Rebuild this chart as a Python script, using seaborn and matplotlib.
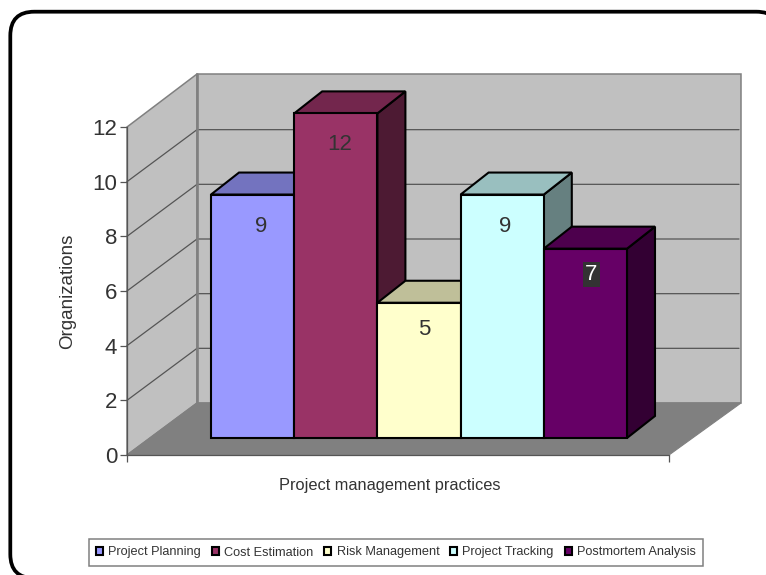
import matplotlib
matplotlib.use("Agg")
import matplotlib.pyplot as plt
from matplotlib.patches import Polygon, FancyBboxPatch, Patch
from matplotlib.transforms import Affine2D
from matplotlib.colors import to_rgb
import seaborn as sns
import pandas as pd

categories = ["Project Planning", "Cost Estimation", "Risk Management",
              "Project Tracking", "Postmortem Analysis"]
values = [9, 12, 5, 9, 7]
colors = ["#9999FF", "#993366", "#FFFFCC", "#CCFFFF", "#660066"]
y_ticks = [0, 2, 4, 6, 8, 10, 12]
y_label = "Organizations"
x_label = "Project management practices"

W, H = 766, 575
sns.set_theme(style="white")
plt.rcParams["font.family"] = ["Liberation Sans", "DejaVu Sans"]
TXT = "#333333"
GRAY = "#808080"
WALL = "#C0C0C0"

fig = plt.figure(figsize=(W / 100, H / 100), dpi=100, facecolor="white")


def box(l, t, r, b):
    return [l / W, 1 - b / H, (r - l) / W, (b - t) / H]


# Pixel-space background: outer rounded frame, walls and floor of the 3D box
bg = fig.add_axes([0, 0, 1, 1], zorder=0)
bg.set_xlim(0, W)
bg.set_ylim(H, 0)
bg.axis("off")
bg.add_patch(FancyBboxPatch((10.3, 11.7), 770, 566.5, boxstyle="round,pad=0,rounding_size=24",
                            facecolor="white", edgecolor="black", linewidth=2.7))
bg.add_patch(Polygon([(197, 74), (741, 74), (741, 403), (197, 403)], facecolor=WALL, edgecolor=GRAY, lw=1.1))
bg.add_patch(Polygon([(127, 127), (197, 74), (197, 403), (127, 455)], facecolor=WALL, edgecolor=GRAY, lw=1.1))
bg.add_patch(Polygon([(127, 455), (197, 403), (741, 403), (669, 455)], facecolor=GRAY, edgecolor=GRAY, lw=0.8))

# Front plane of the chart box: holds the real value axis
ax = fig.add_axes(box(127, 127, 669, 455), zorder=1)
ax.patch.set_alpha(0)
ax.set_ylim(0, 12)
ax.set_xlim(0, 1)
ax.set_yticks(y_ticks)
ax.set_xticks([0, 1])
ax.set_xticklabels(["", ""])
ax.tick_params(axis="y", left=True, length=5, width=0.9, color="#555555", labelsize=16,
               labelcolor=TXT, pad=2)
ax.tick_params(axis="x", bottom=True, length=5, width=0.9, color="#555555")
for s in ["top", "right"]:
    ax.spines[s].set_visible(False)
for s in ["left", "bottom"]:
    ax.spines[s].set_color("#555555")
    ax.spines[s].set_linewidth(0.9)
ax.set_ylabel(y_label, fontsize=13.5, color=TXT, labelpad=12)
ax.set_xlabel(x_label, fontsize=11.8, color=TXT, labelpad=8, x=(389.5 - 127) / 542)

# Gridlines run from the value axis back along the side wall and across the back wall
back = ax.transData + Affine2D().translate(70, 52)
to_bg = bg.transData.inverted()
for v in y_ticks[1:-1]:
    a = to_bg.transform(ax.transData.transform((0, v)))
    b = to_bg.transform(back.transform((0, v)))
    c = to_bg.transform(back.transform((1, v)))
    bg.plot([a[0], b[0], c[0]], [a[1], b[1], c[1]], color="#555555", lw=0.9)
bg.plot([197, 197], [74, 403], color=GRAY, lw=1.9)

# Bars: data coordinates map category slots and values onto the bar plane
bar_ax = fig.add_axes([0, 0, 1, 1], zorder=2)
bar_ax.patch.set_alpha(0)
UX, UY = 83.2, 27.05
df = pd.DataFrame({"category": categories, "value": values})
sns.barplot(data=df, x="category", y="value", hue="category", palette=colors, width=1,
            dodge=False, legend=False, edgecolor="black", linewidth=1.5, saturation=1, ax=bar_ax)
bar_ax.set_xlim(-0.5 - 211 / UX, -0.5 + (W - 211) / UX)
bar_ax.set_ylim(-(H - 438) / UY, 438 / UY)
bar_ax.axis("off")
DX, DY = 28 / UX, 22 / UY


def shade(c, f):
    return tuple(x * f for x in to_rgb(c))


label_dx = [9, 4, 5.5, 3, 6]
label_dy = [32, 31, 27, 32, 26]
for i, (patch, v, c) in enumerate(zip(bar_ax.patches, values, colors)):
    x0 = patch.get_x()
    x1 = x0 + patch.get_width()
    patch.set_zorder(10 + 3 * i)
    bar_ax.add_patch(Polygon([(x1, 0), (x1 + DX, DY), (x1 + DX, v + DY), (x1, v)],
                             facecolor=shade(c, 0.5), edgecolor="black", lw=1.5, zorder=9 + 3 * i))
    bar_ax.add_patch(Polygon([(x0, v), (x0 + DX, v + DY), (x1 + DX, v + DY), (x1, v)],
                             facecolor=shade(c, 0.75), edgecolor="black", lw=1.5, zorder=9 + 3 * i))
    dark = c == "#660066"
    bar_ax.annotate(str(v), (x0 + 0.5, v), xytext=(label_dx[i] * 0.72, -label_dy[i] * 0.72),
                    textcoords="offset points", ha="center", va="center", fontsize=16,
                    color="white" if dark else TXT, zorder=40,
                    bbox=dict(facecolor=TXT, edgecolor="none", pad=1.5) if dark else None)

# Legend
handles = [Patch(facecolor=c, edgecolor="black", linewidth=1.5, label=n) for c, n in zip(colors, categories)]
leg = fig.legend(handles=handles, ncol=5, loc="center", bbox_to_anchor=(396 / W, 1 - 552.5 / H),
                 fontsize=9.2, frameon=True, fancybox=False, edgecolor=GRAY, framealpha=1,
                 handlelength=0.55, handleheight=0.55, handletextpad=0.4, columnspacing=0.86,
                 borderpad=0.55, labelcolor=TXT)
leg.get_frame().set_linewidth(1.1)

fig.savefig("out.png", dpi=100)
